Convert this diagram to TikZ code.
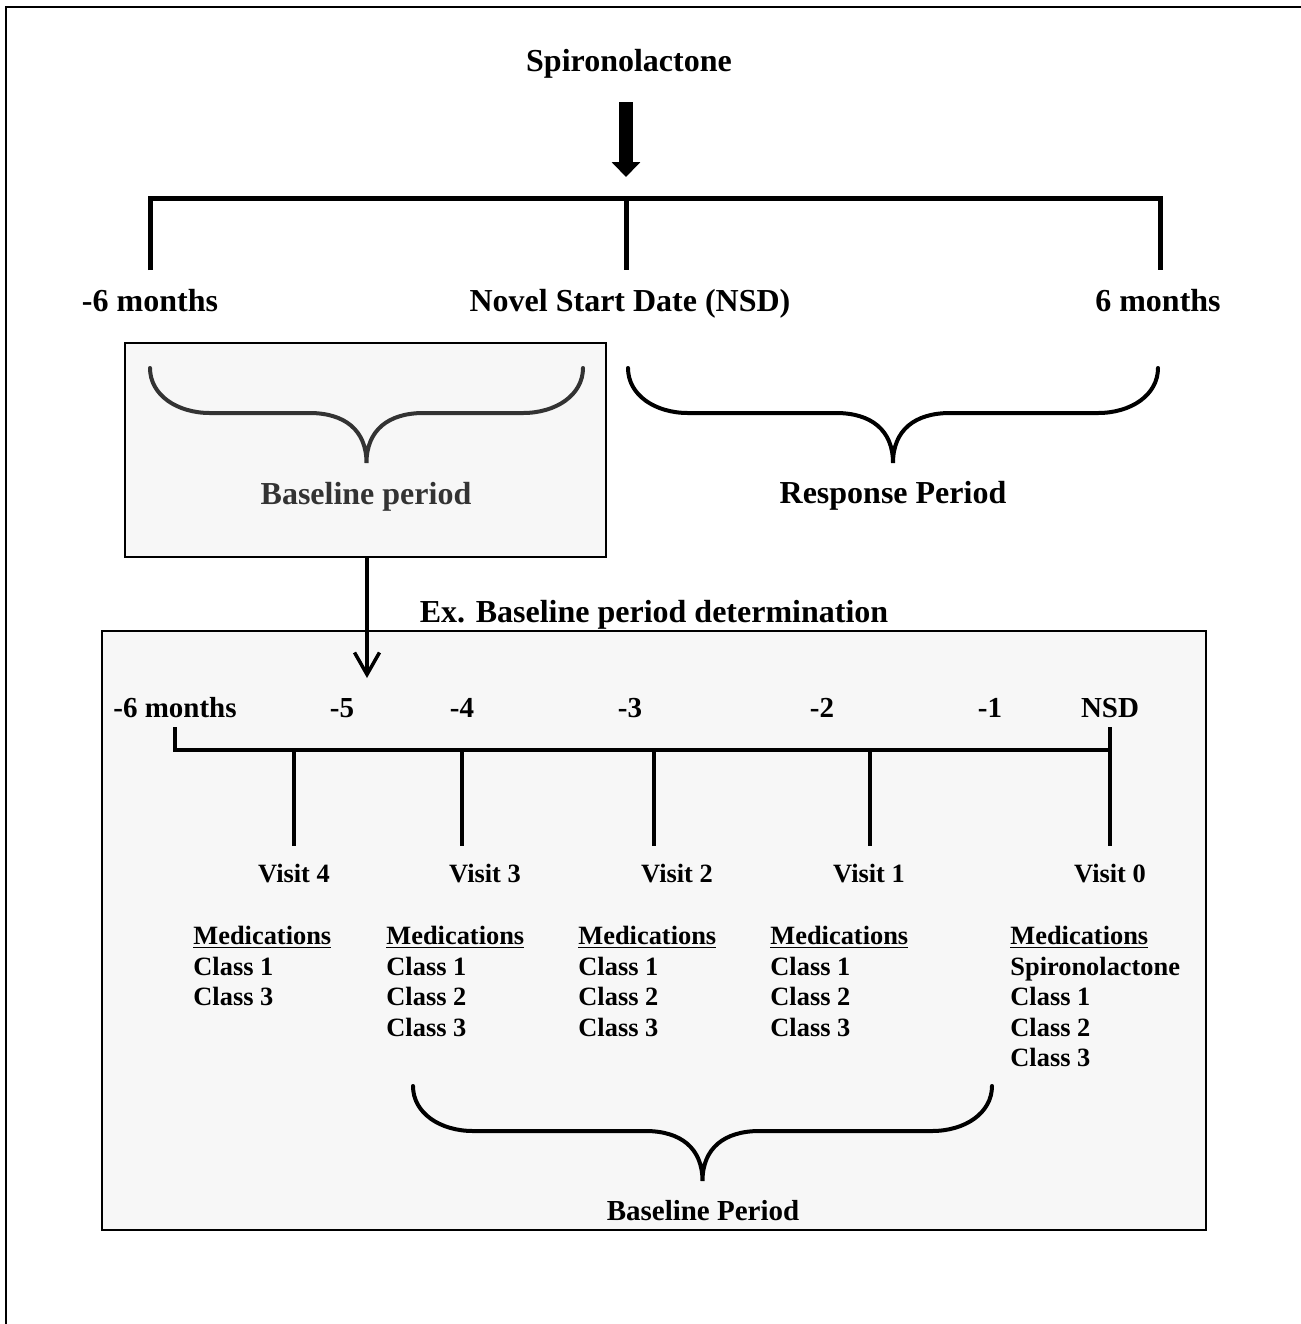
\documentclass[tikz,border=0pt]{standalone}
\usepackage{fontspec}
\setmainfont{Liberation Serif}
\usetikzlibrary{arrows.meta}
\definecolor{panelgray}{RGB}{247,247,247}
\definecolor{inkgray}{RGB}{51,51,51}

\begin{document}
\begin{tikzpicture}[
        x=0.5pt, y=-0.5pt,
        big/.style={font=\fontsize{16}{19}\selectfont\bfseries, inner sep=0, anchor=base},
        mid/.style={font=\fontsize{14.5}{17}\selectfont\bfseries, inner sep=0, anchor=base},
        small/.style={font=\fontsize{13.2}{15.25}\selectfont\bfseries, inner sep=0, anchor=base},
        medlist/.style={font=\fontsize{13.2}{15.25}\selectfont\bfseries, inner sep=0, anchor=north west, align=left},
        panel/.style={draw=black, line width=1pt, fill=panelgray},
        bar/.style={line width=2.5pt},
        axis/.style={line width=2pt},
        bracel/.style={line width=2pt, line cap=round},
        pics/curly/.style={code={
            \draw[bracel] (-#1,0) .. controls (-#1,27) and (-#1+27,45) .. (-#1+60,45) -- (-57,45)
                .. controls (-22,45) and (0,62) .. (0,95) .. controls (0,62) and (22,45) .. (57,45)
                -- (#1-60,45) .. controls (#1-27,45) and (#1,27) .. (#1,0);}}
    ]
        \useasboundingbox (0,0) rectangle (1301,1324);
        \draw[line width=1pt] (6,1324) -- (6,7) -- (1301,7);

        % top time line
        \node[big] (spiro) at (629,71) {Spironolactone};
        \coordinate (spiroTip) at (626,177);
        \draw[line width=7pt, -{Triangle[length=7.5pt, width=14pt]}, shorten <=12pt] (spiro.south -| spiroTip) -- (spiroTip);

        \coordinate (barL) at (150,270);
        \coordinate (barM) at (626,270);
        \coordinate (barR) at (1160,270);
        \draw[bar] (barL) -- (150,198) -- (1160,198) -- (barR);
        \draw[bar] (626,198) -- (barM);

        \node[big] (minusSix) at (150,311) {-6 months};
        \node[big] (nsd) at (630,311) {Novel Start Date (NSD)};
        \node[big] (plusSix) at (1158,311) {6 months};

        % periods
        \node[panel, minimum width=240.5pt, minimum height=107pt, inner sep=0] (basebox) at (365.5,450) {};
        \pic[color=inkgray] at (366.5,368) {curly=216.5};
        \node[big, text=inkgray] (baselbl) at (366,504) {Baseline period};

        \pic at (893,368) {curly=265};
        \node[big] (resplbl) at (893,503) {Response Period};

        % example panel
        \path[panel] (102,631) rectangle (1206,1230);
        \node[big] (exlbl) at (654,622) {Ex. Baseline period determination};

        \coordinate (exTip) at (367,678);
        \draw[line width=1.75pt, -{Straight Barb[length=11pt, width=12.5pt]}] (basebox.south -| exTip) -- (exTip);

        \foreach \x/\t/\n in {175/-6 months/tm6, 342/-5/tm5, 462/-4/tm4, 630/-3/tm3, 822/-2/tm2, 990/-1/tm1, 1110/NSD/tm0}
            \node[mid] (\n) at (\x,717) {\t};

        \coordinate (axL) at (175,727);
        \coordinate (axR) at (1110,727);
        \coordinate (axRb) at (1110,846);
        \draw[axis] (axL) -- (175,750) -- (1110,750);
        \draw[axis] (axR) -- (axRb);
        \foreach \x in {294,462,654,870}
            \draw[axis] (\x,750) -- (\x,846);

        \foreach \x/\v in {294/4, 485/3, 677/2, 869/1, 1110/0}
            \node[small] (visit\v) at (\x,882) {Visit \v};

        \node[medlist] (med4) at (193,926) {\underline{Medications}\\Class 1\\Class 3};
        \node[medlist] (med3) at (386,926) {\underline{Medications}\\Class 1\\Class 2\\Class 3};
        \node[medlist] (med2) at (578,926) {\underline{Medications}\\Class 1\\Class 2\\Class 3};
        \node[medlist] (med1) at (770,926) {\underline{Medications}\\Class 1\\Class 2\\Class 3};
        \node[medlist] (med0) at (1010,926) {\underline{Medications}\\Spironolactone\\Class 1\\Class 2\\Class 3};

        \pic at (702.5,1086) {curly=289.5};
        \node[mid] (bplbl) at (703,1220) {Baseline Period};
    \end{tikzpicture}
\end{document}
